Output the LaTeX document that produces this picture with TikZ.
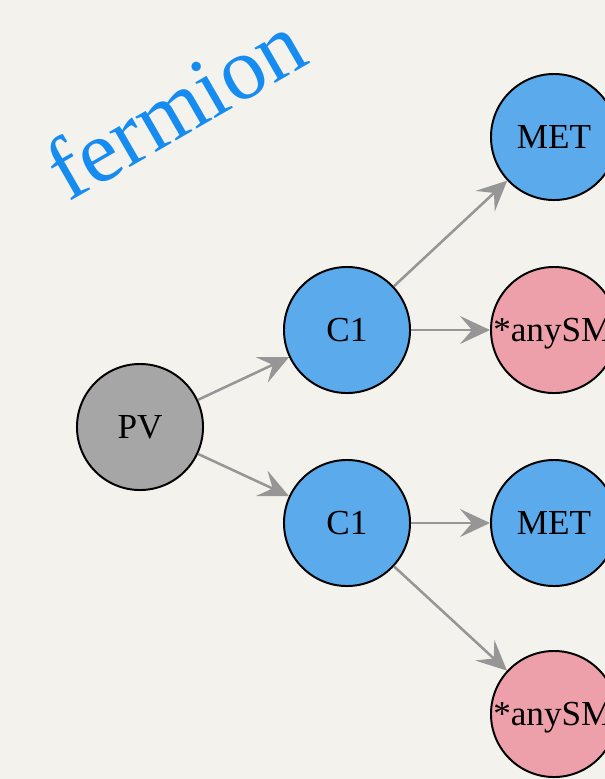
\documentclass[tikz,border=0pt]{standalone}
\usepackage{fontspec}
\setmainfont{Liberation Serif}
\usetikzlibrary{arrows.meta}
\definecolor{paper}{RGB}{244,242,237}
\definecolor{metblue}{RGB}{90,170,236}
\definecolor{smpink}{RGB}{238,160,170}
\definecolor{pvgray}{RGB}{166,166,166}
\definecolor{edgegray}{RGB}{150,150,150}
\definecolor{titleblue}{RGB}{22,140,240}
\tikzset{
  particle/.style={circle, draw=black, line width=1.4pt, minimum size=3.15cm, inner sep=0pt,
    font=\fontsize{25}{25}\selectfont},
  decay/.style={draw=edgegray, line width=1.8pt, -{Stealth[length=0.75cm, width=0.7cm, inset=0.3cm]}}
}
\begin{document}
\begin{tikzpicture}[x=0.025cm, y=-0.025cm]
\useasboundingbox[fill=paper] (0,0) rectangle (605,779);
\node[rotate=30, text=titleblue, font=\fontsize{63}{63}\selectfont, inner sep=0pt] (title) at (175,106) {fermion};
% primary vertex and the two charginos
\node[particle, fill=pvgray] (pv) at (140,427) {PV};
\node[particle, fill=metblue] (c1a) at (347,330) {C1};
\node[particle, fill=metblue] (c1b) at (347,523) {C1};
% decay products
\node[particle, fill=metblue] (meta) at (554,137) {MET};
\node[particle, fill=smpink] (sma) at (554,330) {};
\node[particle, fill=metblue] (metb) at (554,523) {MET};
\node[particle, fill=smpink] (smb) at (554,714) {};
\node[anchor=base west, font=\fontsize{25}{25}\selectfont, inner sep=0pt] (smatext) at (493,341) {*anySM};
\node[anchor=base west, font=\fontsize{25}{25}\selectfont, inner sep=0pt] (smbtext) at (493,725) {*anySM};
\draw[decay] (pv) -- (c1a);
\draw[decay] (pv) -- (c1b);
\draw[decay] (c1a) -- (meta);
\draw[decay] (c1a) -- (sma);
\draw[decay] (c1b) -- (metb);
\draw[decay] (c1b) -- (smb);
\end{tikzpicture}
\end{document}
